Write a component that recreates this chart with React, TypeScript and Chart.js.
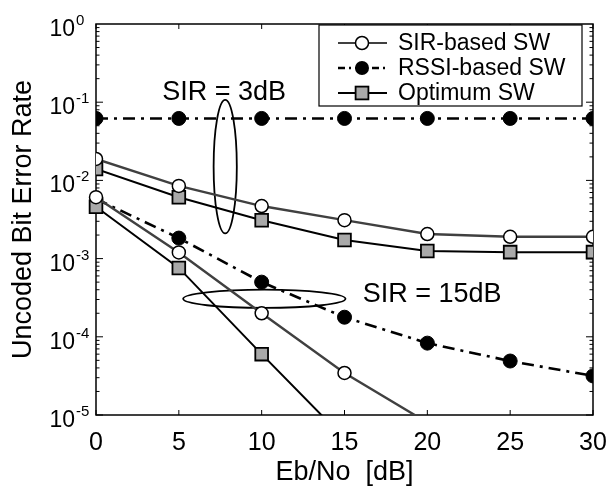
import { useEffect, useRef } from 'react';
import { Chart, registerables } from 'chart.js';

Chart.register(...registerables);

// Eb/No grid in dB
const ebNo = [0, 5, 10, 15, 20, 25, 30];

// SIR = 3 dB
const sirBased3 = [0.0188, 0.0085, 0.0047, 0.0031, 0.00206, 0.0019, 0.0019];
const rssiBased3 = [0.062, 0.062, 0.062, 0.062, 0.062, 0.062, 0.062];
const optimum3 = [0.014, 0.0061, 0.0031, 0.00173, 0.00125, 0.00121, 0.00121];

// SIR = 15 dB
const sirBased15 = [0.0061, 0.0012, 0.0002, 0.0000345, 0.000008];
const rssiBased15 = [0.0058, 0.00183, 0.0005, 0.000178, 0.000083, 0.000049, 0.0000316];
const optimum15 = [0.0046, 0.00076, 0.00006, 0.000005];

const xTicks = [0, 5, 10, 15, 20, 25, 30];
const yExponents = [0, -1, -2, -3, -4, -5];

const legendLabels = ['SIR-based SW', 'RSSI-based SW', 'Optimum SW'];

// Curve-group annotations: label anchor (dB, BER) and ellipse bounds (dB, BER)
const sir3Label = { text: 'SIR = 3dB', x: 4.0, y: 0.108 };
const sir15Label = { text: 'SIR = 15dB', x: 16.1, y: 0.000275 };
const sir3Ellipse = { x0: 7.1, x1: 8.5, y0: 0.107, y1: 0.0021 };
const sir15Ellipse = { x0: 5.26, x1: 15.06, y0: 0.0004, y1: 0.000234 };

const FONT = '"Liberation Sans", Arial, Helvetica, sans-serif';
const RSSI_DASH = [12, 6, 3, 6];
const SQUARE_FILL = '#a9a9a9';
const CIRCLE_LINE = '#404040';

const pts = (vals: number[]) => vals.map((v, i) => ({ x: ebNo[i], y: v }));

const clipBottom = { left: 12, top: 12, right: 12, bottom: 0 };

const sirStyle = {
  borderColor: CIRCLE_LINE,
  borderWidth: 2.4,
  pointStyle: 'circle',
  pointRadius: 6.5,
  pointBackgroundColor: '#ffffff',
  pointBorderColor: '#000000',
  pointBorderWidth: 1.5,
};
const rssiStyle = {
  borderColor: '#000000',
  borderWidth: 2.6,
  borderDash: RSSI_DASH,
  pointStyle: 'circle',
  pointRadius: 7,
  pointBackgroundColor: '#000000',
  pointBorderColor: '#000000',
  pointBorderWidth: 1,
};
const optStyle = {
  borderColor: '#000000',
  borderWidth: 2,
  pointStyle: 'rect',
  pointRadius: 9,
  pointBackgroundColor: SQUARE_FILL,
  pointBorderColor: '#000000',
  pointBorderWidth: 1.8,
};

function drawMarker(ctx: CanvasRenderingContext2D, kind: number, cx: number, cy: number) {
  ctx.save();
  ctx.setLineDash([]);
  if (kind === 0) {
    ctx.beginPath();
    ctx.arc(cx, cy, 6.5, 0, Math.PI * 2);
    ctx.fillStyle = '#fff';
    ctx.fill();
    ctx.lineWidth = 1.5;
    ctx.strokeStyle = '#000';
    ctx.stroke();
  } else if (kind === 1) {
    ctx.beginPath();
    ctx.arc(cx, cy, 7, 0, Math.PI * 2);
    ctx.fillStyle = '#000';
    ctx.fill();
  } else {
    const s = 6.4;
    ctx.fillStyle = SQUARE_FILL;
    ctx.fillRect(cx - s, cy - s, 2 * s, 2 * s);
    ctx.lineWidth = 1.8;
    ctx.strokeStyle = '#000';
    ctx.strokeRect(cx - s, cy - s, 2 * s, 2 * s);
  }
  ctx.restore();
}

const framePlugin = {
  id: 'frame',
  beforeDatasetsDraw(chart: any) {
    const { ctx, chartArea: a } = chart;
    const xs = chart.scales.x;
    const ys = chart.scales.y;
    ctx.save();
    ctx.strokeStyle = '#000';
    ctx.lineWidth = 1.5;
    ctx.strokeRect(a.left, a.top, a.right - a.left, a.bottom - a.top);

    ctx.lineWidth = 1;
    ctx.beginPath();
    xTicks.forEach((v) => {
      const px = xs.getPixelForValue(v);
      ctx.moveTo(px, a.bottom);
      ctx.lineTo(px, a.bottom - 5);
      ctx.moveTo(px, a.top);
      ctx.lineTo(px, a.top + 5);
    });
    for (let k = -5; k < 0; k++) {
      for (let m = 1; m <= 9; m++) {
        const py = ys.getPixelForValue(m * Math.pow(10, k));
        const len = m === 1 ? 7 : 3.5;
        ctx.moveTo(a.left, py);
        ctx.lineTo(a.left + len, py);
        ctx.moveTo(a.right, py);
        ctx.lineTo(a.right - len, py);
      }
    }
    ctx.stroke();

    // group ellipses
    ctx.lineWidth = 1.8;
    [sir3Ellipse, sir15Ellipse].forEach((e) => {
      const l = xs.getPixelForValue(e.x0);
      const r = xs.getPixelForValue(e.x1);
      const t = ys.getPixelForValue(e.y0);
      const b = ys.getPixelForValue(e.y1);
      ctx.beginPath();
      ctx.ellipse((l + r) / 2, (t + b) / 2, (r - l) / 2, (b - t) / 2, 0, 0, Math.PI * 2);
      ctx.stroke();
    });
    ctx.restore();
  },
  afterDatasetsDraw(chart: any) {
    const { ctx, chartArea: a } = chart;
    const xs = chart.scales.x;
    const ys = chart.scales.y;
    ctx.save();
    ctx.fillStyle = '#000';

    // y tick labels as 10 with a raised exponent
    yExponents.forEach((k) => {
      const py = ys.getPixelForValue(Math.pow(10, k));
      ctx.textBaseline = 'alphabetic';
      ctx.font = `23px ${FONT}`;
      ctx.textAlign = 'right';
      ctx.fillText('10', a.left - 21, py + 12);
      ctx.font = `15px ${FONT}`;
      ctx.textAlign = 'left';
      ctx.fillText(String(k), a.left - 20, py + 1);
    });

    // group labels
    ctx.font = `27px ${FONT}`;
    ctx.textAlign = 'left';
    ctx.textBaseline = 'alphabetic';
    [sir3Label, sir15Label].forEach((lb) => {
      ctx.fillText(lb.text, xs.getPixelForValue(lb.x), ys.getPixelForValue(lb.y));
    });

    // legend box
    const bx = a.left + 223;
    const by = a.top + 1;
    const bw = a.right - 11 - bx;
    const bh = 81;
    ctx.fillStyle = '#fff';
    ctx.fillRect(bx, by, bw, bh);
    ctx.strokeStyle = '#000';
    ctx.lineWidth = 1.2;
    ctx.strokeRect(bx, by, bw, bh);
    legendLabels.forEach((label, i) => {
      const cy = by + 18 + i * 25;
      ctx.save();
      ctx.beginPath();
      ctx.moveTo(bx + 19, cy);
      ctx.lineTo(bx + 68, cy);
      if (i === 1) {
        ctx.setLineDash([7, 4, 2, 4]);
        ctx.lineWidth = 2.6;
        ctx.strokeStyle = '#000';
      } else if (i === 0) {
        ctx.lineWidth = 2.2;
        ctx.strokeStyle = CIRCLE_LINE;
      } else {
        ctx.lineWidth = 2;
        ctx.strokeStyle = '#000';
      }
      ctx.stroke();
      ctx.restore();
      drawMarker(ctx, i, bx + 43, cy);
      ctx.fillStyle = '#000';
      ctx.font = `23px ${FONT}`;
      ctx.textAlign = 'left';
      ctx.textBaseline = 'middle';
      ctx.fillText(label, bx + 79, cy + 1);
    });
    ctx.restore();
  },
};

export default function App() {
  const canvasRef = useRef<HTMLCanvasElement | null>(null);

  useEffect(() => {
    const canvas = canvasRef.current;
    if (!canvas) return;
    const chart = new Chart(canvas, {
      type: 'line',
      data: {
        datasets: [
          { label: 'SIR-based SW (3dB)', data: pts(sirBased3), ...sirStyle },
          { label: 'SIR-based SW (15dB)', data: pts(sirBased15), ...sirStyle, clip: clipBottom },
          { label: 'Optimum SW (3dB)', data: pts(optimum3), ...optStyle },
          { label: 'Optimum SW (15dB)', data: pts(optimum15), ...optStyle, clip: clipBottom },
          { label: 'RSSI-based SW (3dB)', data: pts(rssiBased3), ...rssiStyle },
          { label: 'RSSI-based SW (15dB)', data: pts(rssiBased15), ...rssiStyle },
        ] as any,
      },
      options: {
        animation: false,
        responsive: false,
        devicePixelRatio: 1,
        layout: { padding: { top: 24, right: 21, left: 0, bottom: 0 } },
        plugins: {
          legend: { display: false },
          tooltip: { enabled: false },
        },
        elements: { line: { tension: 0 } },
        scales: {
          x: {
            type: 'linear',
            min: 0,
            max: 30,
            grid: { display: false },
            border: { display: false },
            ticks: {
              stepSize: 5,
              color: '#000',
              padding: 5,
              font: { family: FONT, size: 25 },
            },
            title: {
              display: true,
              text: 'Eb/No  [dB]',
              color: '#000',
              font: { family: FONT, size: 27 },
              padding: { top: 0, bottom: 0 },
            },
            afterFit: (s: any) => {
              s.height = 74;
            },
          },
          y: {
            type: 'logarithmic',
            min: 1e-5,
            max: 1,
            grid: { display: false },
            border: { display: false },
            ticks: { display: false },
            title: {
              display: true,
              text: 'Uncoded Bit Error Rate',
              color: '#000',
              font: { family: FONT, size: 27 },
              padding: { top: 7, bottom: 0 },
            },
            afterFit: (s: any) => {
              s.width = 96;
            },
          },
        },
      } as any,
      plugins: [framePlugin],
    });
    return () => chart.destroy();
  }, []);

  return (
    <div style={{ position: 'absolute', left: 0, top: 0, width: 614, height: 489, background: '#fff' }}>
      <canvas ref={canvasRef} width={614} height={489} />
    </div>
  );
}
